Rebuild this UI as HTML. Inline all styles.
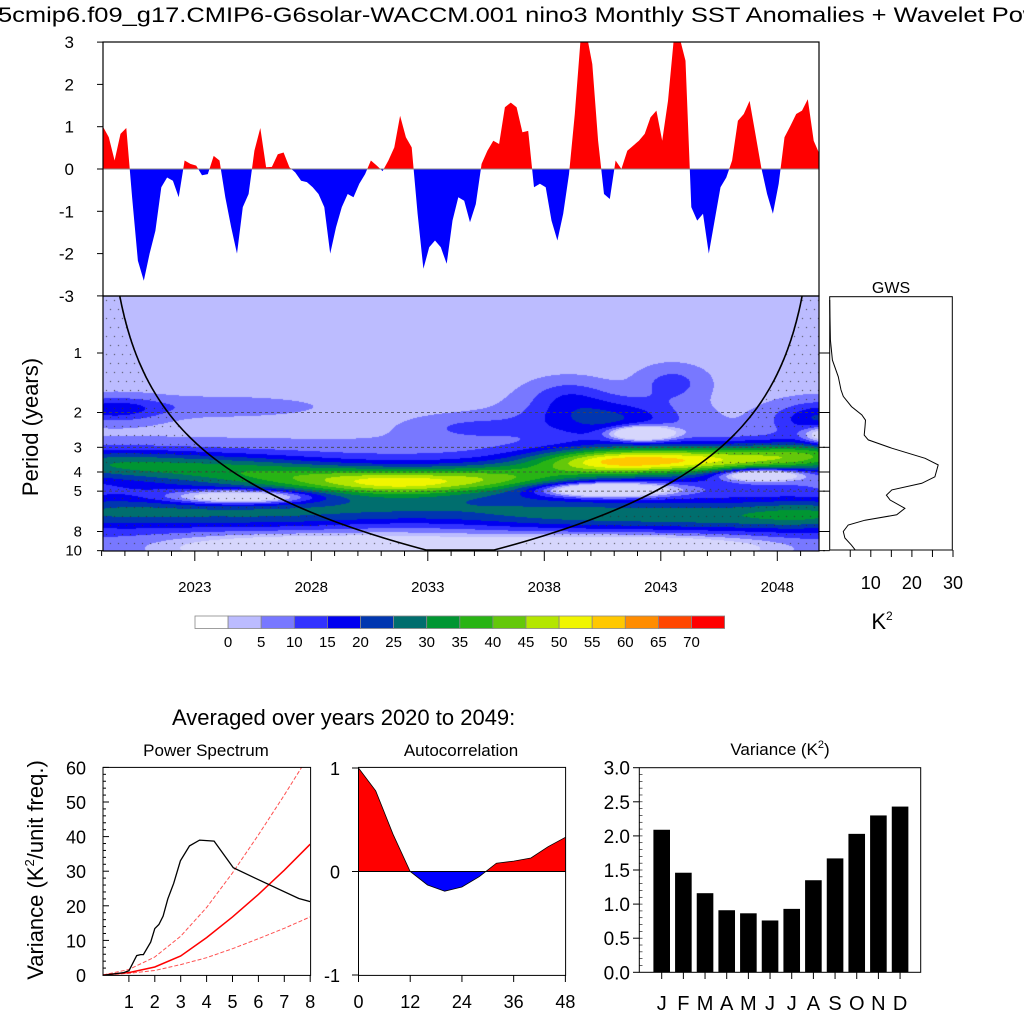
<!DOCTYPE html>
<html><head><meta charset="utf-8">
<style>
html,body{margin:0;padding:0;background:#fff;}
#wrap{position:relative;width:1024px;height:1024px;overflow:hidden;}
svg{position:absolute;left:0;top:0;}
canvas{position:absolute;left:103px;top:296px;}
text{font-family:"Liberation Sans",sans-serif;fill:#000;}
</style></head>
<body>
<div id="wrap">
<canvas id="wav" width="716" height="255"></canvas>
<svg id="svg" width="1024" height="1024"></svg>
</div>
<script>
// ---------- DATA ----------
const sstValues = [1.0,0.75,0.2,0.83,0.97,-0.67,-2.17,-2.64,-2.0,-1.46,-0.43,-0.2,-0.28,-0.67,0.2,0.12,0.08,-0.15,-0.12,0.31,0.2,-0.67,-1.38,-2.0,-0.9,-0.59,0.43,0.97,0.04,0.05,0.35,0.39,0.04,-0.08,-0.28,-0.31,-0.43,-0.59,-0.9,-2.0,-1.38,-0.9,-0.59,-0.67,-0.35,-0.12,0.2,0.08,-0.05,0.2,0.51,1.26,0.75,0.51,-1.06,-2.36,-1.85,-1.69,-1.85,-2.24,-1.22,-0.67,
-0.75,-1.26,-0.83,0.12,0.43,0.67,0.59,1.46,1.57,1.46,0.87,0.9,-0.43,-0.35,-0.43,-1.22,-1.69,-1.06,-0.12,1.3,3.1,3.2,2.48,0.67,-0.59,-0.71,0.2,0,0.43,0.55,0.67,0.83,1.22,1.38,0.67,1.61,3.1,3.1,2.56,-0.9,-1.22,-1.06,-2.0,-1.22,-0.43,-0.2,0.2,1.14,1.3,1.61,0.83,0.04,-0.59,-1.06,-0.35,0.75,1.02,1.3,1.38,1.65,0.67,0.35];
const sstStartYear = 2019.06;
const sstStep = 0.25;
const topTicks = [3,2,1,0,-1,-2,-3];
const yearTicks = [2023,2028,2033,2038,2043,2048];
const periodTicks = [1,2,3,4,5,8,10];
const dashedPeriods = [2,3,4,5];
const blobT   = [2019.0,2024.5,2029.0,2032.0,2036.0,2041.0,2045.5,2049.5, 2019.0,2026.0,2032.0,2038.5,2045.0,2050.0, 2025.0,2040.7,2047.3,2042.2,2050.0,2029.0,2041.0, 2040.5,2043.5,2039.0,2034.8,2019.5,2024.0,2050.0,2019.0,2050.0, 2022.0,2030.0,2038.0,2046.0];
const blobL   = [1.85,1.95,2.12,2.2,2.1,1.82,1.78,1.72, 2.68,2.72,2.62,2.72,2.75,2.7, 2.42,2.3,2.05,1.35,1.38,3.27,3.27, 1.1,0.5,0.7,1.25,0.95,0.9,1.1,3.3,3.3, 2.1,2.15,2.05,1.95];
const blobAmp = [18,14,18,22,20,38,28,24, 18,15,12,17,19,19, -32,-42,-38,-40,-22,-26,-26, 18,9,8,7,14,5,18,6,6, 8,8,8,8];
const blobST  = [3.0,3.0,3.0,2.5,2.5,2.5,2.5,2.0, 3.5,3.5,3.5,3.5,3.5,2.5, 2.0,1.8,1.2,0.9,0.6,4.0,4.0, 2.3,1.0,1.2,1.8,1.5,3.0,1.5,3.0,3.0, 5,5,5,5];
const blobSL  = [0.18,0.18,0.16,0.15,0.16,0.16,0.17,0.17, 0.2,0.2,0.2,0.2,0.2,0.2, 0.08,0.08,0.07,0.08,0.1,0.12,0.12, 0.25,0.2,0.2,0.15,0.15,0.12,0.2,0.3,0.3, 0.35,0.35,0.35,0.35];
const powerBase = 3;
const levelValues = [0,5,10,15,20,25,30,35,40,45,50,55,60,65,70];
const levelColors = ["#ffffff","#bcbcff","#7878ff","#3232ff","#0000f0","#0036b0","#006e6e","#009632","#28b414","#64c80a","#b4e600","#f0f500","#ffc800","#ff8c00","#ff4600","#ff0000"];
const gwsL = [-0.89,-0.22,0.12,0.40,0.62,0.73,0.90,1.04,1.13,1.24,1.38,1.46,1.60,1.77,1.88,2.08,2.19,2.30,2.39,2.47,2.61,2.72,2.81,2.89,3.00,3.11,3.23,3.31];
const gwsV = [0,0.16,0.65,2.1,2.75,3.3,5.3,7.8,8.7,8.6,8.4,9.4,15.1,23.2,26.4,25.6,22.4,15.1,13.8,14.7,18.3,16.3,8.6,4.5,3.3,3.7,5.3,6.2];
const gwsTicks = [10,20,30];
const psX = [0.09,0.8,1.0,1.3,1.45,1.56,1.84,2.0,2.16,2.32,2.5,2.73,2.99,3.34,3.73,4.29,5.03,5.87,7.56,8.0];
const psY = [0,0.7,1.2,5.6,5.9,5.9,9.5,13.4,14.6,17,22,26.5,33,37.3,39,38.7,31,28,22.1,21.2];
const redX = [0,1,2,3,4,5,6,7,8];
const redMid = [0,0.7,2.3,5.5,10.8,16.8,23.3,30.3,37.8];
const redHi  = [0,1.6,5.2,11.2,19.5,29.5,40.5,52,64];
const redLo  = [0,0.5,1.3,3.0,5.0,7.6,10.5,13.5,16.8];
const psYTicks = [0,10,20,30,40,50,60];
const psXTicks = [1,2,3,4,5,6,7,8];
const acLag = [0,4,8,12,16,20,24,28,32,36,40,44,48];
const acVal = [1.0,0.78,0.36,0.0,-0.13,-0.19,-0.15,-0.05,0.08,0.10,0.13,0.24,0.33];
const acXTicks = [0,12,24,36,48];
const acYTicks = [1,0,-1];
const months = ["J","F","M","A","M","J","J","A","S","O","N","D"];
const monthVar = [2.09,1.46,1.16,0.91,0.865,0.76,0.93,1.35,1.67,2.03,2.30,2.43];
const varTicks = ["0.0","0.5","1.0","1.5","2.0","2.5","3.0"];

const NS="http://www.w3.org/2000/svg";
const svg=document.getElementById('svg');
function el(tag,attrs,parent){const e=document.createElementNS(NS,tag);for(const k in attrs)e.setAttribute(k,attrs[k]);(parent||svg).appendChild(e);return e;}
function txt(s,x,y,size,anchor,name,parent){const t=el('text',{x:x,y:y,'font-size':size,'text-anchor':anchor||'start'},parent);t.textContent=s;


return t;}

const xYear = t => 194.8 + (t-2023)*23.3;
const yTop = v => 169 - 42.3*v;
const yL = L => 353 + 59.5*L;
const yPer = p => yL(Math.log2(p));
const xGws = v => 829.7 + v*4.11;
const xPs = v => 103 + v*25.9;
const yPs = v => 975 - v*3.46;
const xAc = v => 358.5 + v*4.31;
const yAc = v => 871.5 - v*103.5;
const xVar = i => 661.7 + i*21.67;
const yVar = v => 972.3 - v*68.2;

const title=txt("5cmip6.f09_g17.CMIP6-G6solar-WACCM.001 nino3 Monthly SST Anomalies + Wavelet Power",-2,22,21,'start','figure-title');
title.setAttribute('textLength','1066');title.setAttribute('lengthAdjust','spacingAndGlyphs');

const gTop=el('g',{});


const defs=el('defs',{});
const c1=el('clipPath',{id:'clipPos'},defs);el('rect',{x:103,y:42,width:716,height:127},c1);
const c2=el('clipPath',{id:'clipNeg'},defs);el('rect',{x:103,y:169,width:716,height:127},c2);
let pts=[];sstValues.forEach((v,i)=>{const x=xYear(sstStartYear+i*sstStep)-xYear(sstStartYear)+103;pts.push(x.toFixed(1)+','+yTop(v).toFixed(1));});
const lastX=103+(sstValues.length-1)*(xYear(sstStartYear+sstStep)-xYear(sstStartYear));
const polyStr='103,169 '+pts.join(' ')+' '+lastX.toFixed(1)+',169';
const pPos=el('polygon',{points:polyStr,fill:'#ff0000','clip-path':'url(#clipPos)'},gTop);


const pNeg=el('polygon',{points:polyStr,fill:'#0000ff','clip-path':'url(#clipNeg)'},gTop);


el('line',{x1:103,y1:169,x2:819,y2:169,stroke:'#888','stroke-width':1},gTop);
el('rect',{x:103,y:42,width:716,height:254,fill:'none',stroke:'#000','stroke-width':1.2},gTop);
topTicks.forEach(v=>{el('line',{x1:97,y1:yTop(v),x2:103,y2:yTop(v),stroke:'#000'},gTop);txt(String(v),74,yTop(v)+6,17,'end','sst-y-tick-label',gTop);});

const cv=document.getElementById('wav');const ctx=cv.getContext('2d');
const img=ctx.createImageData(716,255);
function hex(c){return [parseInt(c.substr(1,2),16),parseInt(c.substr(3,2),16),parseInt(c.substr(5,2),16)];}
const rgb=levelColors.map(hex);const lowest=hex("#d6d6fc");
function coiLeft(y){const L=(y-353)/59.5;return 103+325*Math.pow(2,L-3.32);}
function coiRight(y){const L=(y-353)/59.5;return 819-327*Math.pow(2,L-3.32);}
for(let py=0;py<255;py++){const y=296+py+0.5;const L=(y-353)/59.5;
 for(let px=0;px<716;px++){const x=103+px+0.5;const t=2023+(x-194.8)/23.3;
  let v=powerBase;
  for(let k=0;k<blobT.length;k++){const dt=(t-blobT[k])/blobST[k],dl=(L-blobL[k])/blobSL[k];const e=dt*dt+dl*dl;if(e<30)v+=blobAmp[k]*Math.exp(-0.5*e);}
  let c;if(v<levelValues[0])c=lowest;else{let i=0;while(i<levelValues.length&&v>=levelValues[i])i++;c=rgb[i];}
  const o=(py*716+px)*4;img.data[o]=c[0];img.data[o+1]=c[1];img.data[o+2]=c[2];img.data[o+3]=255;}}
ctx.putImageData(img,0,0);
ctx.fillStyle='#333';
for(let py=4;py<255;py+=9){const y=296+py;for(let px=3+((py/9|0)%2)*4;px<716;px+=8){const x=103+px;
 if(x<coiLeft(y)||x>coiRight(y)||y>550)ctx.fillRect(px,py,1,1);}}

const gW=el('g',{});


dashedPeriods.forEach(p=>{const l=el('line',{x1:103,y1:yPer(p),x2:819,y2:yPer(p),stroke:'#444','stroke-width':0.8,'stroke-dasharray':'3,3'},gW);

});
let lp=[],rp=[];for(let y=296;y<=551;y+=2){lp.push(coiLeft(y).toFixed(1)+','+y);rp.push(coiRight(y).toFixed(1)+','+y);}
const coi=el('polyline',{points:lp.join(' ')+' '+rp.reverse().join(' '),fill:'none',stroke:'#000','stroke-width':1.6},gW);


el('rect',{x:103,y:296,width:716,height:255,fill:'none',stroke:'#000','stroke-width':1.2},gW);
periodTicks.forEach(p=>{el('line',{x1:97,y1:yPer(p),x2:103,y2:yPer(p),stroke:'#000'},gW);el('line',{x1:819,y1:yPer(p),x2:825,y2:yPer(p),stroke:'#000'},gW);txt(String(p),82,yPer(p)+5,15,'end','period-tick-label',gW);});
for(let yr=2019;yr<=2049;yr++){const maj=yearTicks.indexOf(yr)>=0;el('line',{x1:xYear(yr),y1:551,x2:xYear(yr),y2:551+(maj?10:5),stroke:'#000'},gW);if(maj)txt(String(yr),xYear(yr),592,15,'middle','year-tick-label',gW);}
const pl=txt("Period (years)",0,0,22,'middle','period-axis-title',gW);pl.setAttribute('transform','translate(38,427) rotate(-90)');

const gG=el('g',{});


txt("GWS",891,293,16,'middle','gws-title',gG);
el('rect',{x:829.7,y:296.7,width:122.6,height:253.3,fill:'none',stroke:'#000','stroke-width':1},gG);
const gp=gwsL.map((L,i)=>xGws(gwsV[i]).toFixed(1)+','+yL(L).toFixed(1)).join(' ');
const gl=el('polyline',{points:gp,fill:'none',stroke:'#000','stroke-width':1},gG);


for(let v=5;v<=30;v+=5)el('line',{x1:xGws(v),y1:550,x2:xGws(v),y2:557,stroke:'#000'},gG);
periodTicks.forEach(p=>el('line',{x1:829.7,y1:yPer(p),x2:823,y2:yPer(p),stroke:'#000'},gG));
gwsTicks.forEach(v=>txt(String(v),xGws(v),589,18,'middle','gws-tick-label',gG));
const k2=txt("K",882,629,22,'middle','gws-unit-label',gG);const sup=el('tspan',{dy:-9,'font-size':12},k2);sup.textContent='2';

const gC=el('g',{});


levelColors.forEach((c,i)=>{const r=el('rect',{x:195+i*33.1,y:616,width:33.1,height:12.5,fill:c,stroke:'#888','stroke-width':0.8},gC);

});
levelValues.forEach((v,i)=>txt(String(v),195+(i+1)*33.1,647,15,'middle','colorbar-label',gC));

txt("Averaged over years 2020 to 2049:",172,725,22,'start','averaged-subtitle');

const gP=el('g',{});


txt("Power Spectrum",206,756,17,'middle','power-spectrum-title',gP);
const ycl=txt("Variance (K",0,0,22,'middle','power-y-axis-title',gP);const s2=el('tspan',{dy:-9,'font-size':13},ycl);s2.textContent='2';const s3=el('tspan',{dy:9},ycl);s3.textContent='/unit freq.)';
ycl.setAttribute('transform','translate(43,870) rotate(-90)');
const c3=el('clipPath',{id:'clipPs'},defs);el('rect',{x:103,y:767,width:207,height:208},c3);
function line(xs,ys,fx,fy,attrs,name,parent){const p=xs.map((x,i)=>fx(x).toFixed(1)+','+fy(ys[i]).toFixed(1)).join(' ');const l=el('polyline',Object.assign({points:p,fill:'none'},attrs),parent);

return l;}
line(redX,redHi,xPs,yPs,{stroke:'#ff5050','stroke-width':1,'stroke-dasharray':'4,2','clip-path':'url(#clipPs)'},'red-noise-upper',gP);
line(redX,redLo,xPs,yPs,{stroke:'#ff5050','stroke-width':1,'stroke-dasharray':'4,2','clip-path':'url(#clipPs)'},'red-noise-lower',gP);
line(redX,redMid,xPs,yPs,{stroke:'#ff0000','stroke-width':1.5,'clip-path':'url(#clipPs)'},'red-noise-mean',gP);
line(psX,psY,xPs,yPs,{stroke:'#000','stroke-width':1.3,'clip-path':'url(#clipPs)'},'power-spectrum-line',gP);
el('rect',{x:103,y:767.4,width:207.6,height:208,fill:'none',stroke:'#000','stroke-width':1},gP);
psYTicks.forEach(v=>{el('line',{x1:103,y1:yPs(v),x2:109,y2:yPs(v),stroke:'#000'},gP);txt(String(v),86,yPs(v)+7,18,'end','power-y-tick-label',gP);});
for(let v=2;v<60;v+=2)if(v%10)el('line',{x1:103,y1:yPs(v),x2:106,y2:yPs(v),stroke:'#000'},gP);
psXTicks.forEach(v=>{el('line',{x1:xPs(v),y1:975,x2:xPs(v),y2:982,stroke:'#000'},gP);txt(String(v),xPs(v),1008,18,'middle','power-x-tick-label',gP);});

const gA=el('g',{});


txt("Autocorrelation",461,756,17,'middle','autocorrelation-title',gA);
const c4=el('clipPath',{id:'clipAp'},defs);el('rect',{x:358,y:760,width:210,height:111.5},c4);
const c5=el('clipPath',{id:'clipAn'},defs);el('rect',{x:358,y:871.5,width:210,height:110},c5);
const ap=acLag.map((l,i)=>xAc(l).toFixed(1)+','+yAc(acVal[i]).toFixed(1));
const apoly=xAc(0)+','+yAc(0)+' '+ap.join(' ')+' '+xAc(48)+','+yAc(0);
const aP=el('polygon',{points:apoly,fill:'#ff0000','clip-path':'url(#clipAp)'},gA);


const aN=el('polygon',{points:apoly,fill:'#0000ff','clip-path':'url(#clipAn)'},gA);


line(acLag,acVal,xAc,yAc,{stroke:'#000','stroke-width':0.8},'autocorr-line',gA);
el('line',{x1:358.5,y1:yAc(0),x2:565.6,y2:yAc(0),stroke:'#000'},gA);
el('rect',{x:358.5,y:767.4,width:207.1,height:208,fill:'none',stroke:'#000','stroke-width':1},gA);
acYTicks.forEach(v=>{el('line',{x1:352,y1:yAc(v),x2:358.5,y2:yAc(v),stroke:'#000'},gA);txt(String(v),340,yAc(v)+7,18,'end','autocorr-y-tick-label',gA);});
acXTicks.forEach(v=>{el('line',{x1:xAc(v),y1:975,x2:xAc(v),y2:982,stroke:'#000'},gA);txt(String(v),xAc(v),1008,18,'middle','autocorr-x-tick-label',gA);});

const gV=el('g',{});


const vt=txt("Variance (K",780,755,17,'middle','variance-title',gV);const vs=el('tspan',{dy:-7,'font-size':11},vt);vs.textContent='2';const vs2=el('tspan',{dy:7},vt);vs2.textContent=')';
monthVar.forEach((v,i)=>{const b=el('rect',{x:xVar(i)-8.3,y:yVar(v),width:16.6,height:yVar(0)-yVar(v),fill:'#000'},gV);


el('line',{x1:xVar(i),y1:972.3,x2:xVar(i),y2:979,stroke:'#000'},gV);
txt(months[i],xVar(i),1010,20,'middle','month-label',gV);});
el('rect',{x:639.3,y:767.7,width:281.4,height:204.6,fill:'none',stroke:'#000','stroke-width':1},gV);
varTicks.forEach((s,i)=>{const v=parseFloat(s);el('line',{x1:633,y1:yVar(v),x2:639.3,y2:yVar(v),stroke:'#000'},gV);txt(s,630,yVar(v)+7,19,'end','variance-y-tick-label',gV);});
for(let v=0.1;v<3;v+=0.1)el('line',{x1:639.3,y1:yVar(v),x2:642.5,y2:yVar(v),stroke:'#000','stroke-width':0.6},gV);
</script>
</body></html>
